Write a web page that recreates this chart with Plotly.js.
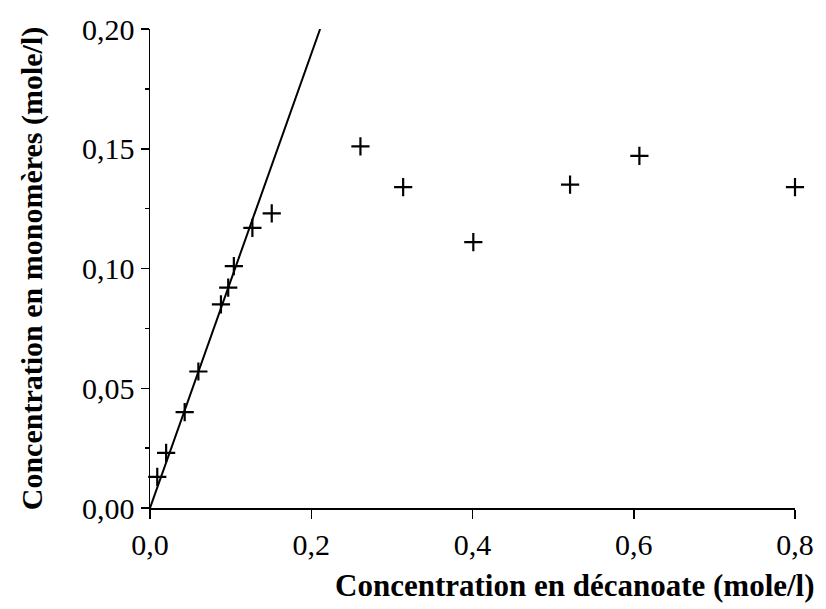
<!DOCTYPE html>
<html>
<head>
<meta charset="utf-8">
<script src="https://cdn.plot.ly/plotly-3.0.1.min.js"></script>
<style>html,body{margin:0;padding:0;background:#fff;}#chart{width:826px;height:609px;}</style>
</head>
<body>
<div id="chart"></div>
<script>
// Measured points: decanoate concentration vs monomer concentration (mole/l)
const decanoate = [0.009, 0.020, 0.043, 0.060, 0.088, 0.097, 0.104, 0.127, 0.151, 0.261, 0.314, 0.401, 0.521, 0.607, 0.800];
const monomeres = [0.013, 0.023, 0.040, 0.057, 0.085, 0.092, 0.101, 0.117, 0.123, 0.151, 0.134, 0.111, 0.135, 0.147, 0.134];
// Straight line through the origin
const lineX = [0, 0.211];
const lineY = [0, 0.2];
const xTicks = [0, 0.2, 0.4, 0.6, 0.8];
const yTicks = [0, 0.05, 0.10, 0.15, 0.20];
const xTitle = 'Concentration en décanoate (mole/l)';
const yTitle = 'Concentration en monomères (mole/l)';

const traces = [
  {x: lineX, y: lineY, mode: 'lines', line: {color: '#000', width: 2}, hoverinfo: 'skip', showlegend: false, cliponaxis: false},
  {x: decanoate, y: monomeres, mode: 'markers', marker: {symbol: 'cross-thin-open', size: 13, color: '#000', line: {color: '#000', width: 2.2}}, showlegend: false, cliponaxis: false}
];

const layout = {
  width: 826, height: 609,
  paper_bgcolor: '#fff', plot_bgcolor: '#fff',
  separators: ', ',
  margin: {l: 150, r: 31, t: 29, b: 101},
  font: {family: '"Liberation Serif", "DejaVu Serif", serif', color: '#000', size: 30},
  showlegend: false,
  xaxis: {
    range: [0, 0.8], tickvals: xTicks, tickformat: '.1f',
    showline: true, linecolor: '#000', linewidth: 1.5,
    ticks: 'outside', ticklen: 9, tickwidth: 1.5, tickcolor: '#000',
    showgrid: false, zeroline: false,
    tickfont: {size: 30}
  },
  yaxis: {
    range: [0, 0.2], tickvals: yTicks, tickformat: '.2f',
    showline: true, linecolor: '#000', linewidth: 1.5,
    ticks: 'outside', ticklen: 8, tickwidth: 1.5, tickcolor: '#000',
    minor: {dtick: 0.025, ticks: 'outside', ticklen: 4, tickwidth: 1.5, tickcolor: '#000', showgrid: false},
    showgrid: false, zeroline: false,
    tickfont: {size: 30},
    title: {text: '<b>' + yTitle + '</b>', font: {size: 30}, standoff: 30}
  },
  annotations: [
    {text: '<b>' + xTitle + '</b>', xref: 'paper', yref: 'paper', x: 1.0, y: 0, xanchor: 'right', yanchor: 'middle',
     xshift: 22, yshift: -77, showarrow: false, font: {size: 31}}
  ]
};

Plotly.newPlot('chart', traces, layout, {displayModeBar: false, staticPlot: true});
</script>
</body>
</html>
